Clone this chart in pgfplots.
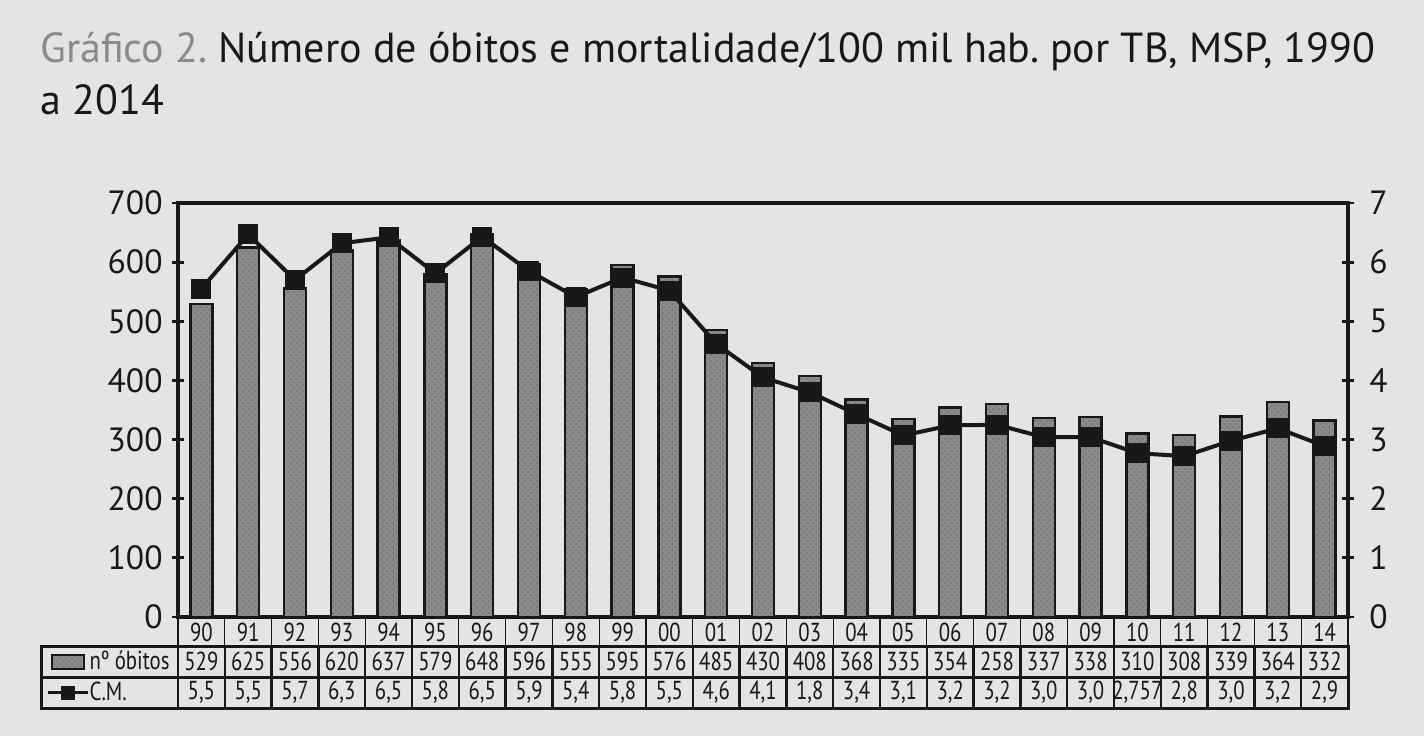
\documentclass[border=0pt]{standalone}
\usepackage{pgfplots}
\pgfplotsset{compat=1.18}
\usepackage{pgfplotstable}
\usepackage{fontspec}
\setmainfont{PT Sans}
\newfontfamily\narrowfont[FakeStretch=0.8]{PT Sans}
\usetikzlibrary{patterns}
\frenchspacing

\definecolor{paper}{HTML}{E4E4E2}
\definecolor{ink}{HTML}{181818}
\definecolor{titlegray}{HTML}{8A8A8A}
\definecolor{barfill}{HTML}{8A8A8A}
\pagecolor{paper}

% legend keys as they sit in the table
\pgfplotsset{
  barkey/.style={legend image code/.code={\draw[##1] (2pt,-3.5pt) rectangle (18pt,3.5pt);}},
  linekey/.style={legend image code/.code={\draw[##1, mark repeat=2, mark phase=2] plot coordinates {(0pt,0pt) (10pt,0pt) (20pt,0pt)};}},
}

% plotted values (x = 1990 ... 2014)
\pgfplotstableread{
x obitos cm
0 529 5.55
1 625 6.47
2 556 5.70
3 620 6.32
4 637 6.42
5 579 5.81
6 648 6.43
7 596 5.85
8 555 5.41
9 595 5.74
10 576 5.52
11 485 4.62
12 430 4.05
13 408 3.80
14 368 3.43
15 335 3.07
16 354 3.24
17 360 3.25
18 337 3.04
19 338 3.04
20 310 2.77
21 308 2.72
22 339 2.98
23 364 3.19
24 332 2.89
}\data

\newcommand{\tabfont}{\narrowfont\fontsize{13}{14}\selectfont}
\newcommand{\tickfont}{\fontsize{16.8}{18}\selectfont}

\begin{document}
\begin{tikzpicture}
\useasboundingbox (-89pt,-59.5pt) rectangle (623pt,308.5pt);

% title
\node[anchor=base west, inner sep=0pt, font=\fontsize{21}{23}\selectfont]
  at (-69pt,277.5pt) {\textcolor{titlegray}{Gráfico 2.} \textcolor{ink}{Número de óbitos e mortalidade/100 mil hab. por TB, MSP, 1990}};
\node[anchor=base west, inner sep=0pt, font=\fontsize{21}{23}\selectfont, text=ink]
  at (-69pt,251.5pt) {a 2014};

\begin{axis}[
  scale only axis, width=585pt, height=207pt,
  xmin=-0.5, xmax=24.5, ymin=0, ymax=700,
  xtick=\empty,
  ytick={0,100,...,700}, ytick pos=left,
  tick align=center, major tick length=6pt,
  tick style={ink, line width=1.4pt},
  axis line style={ink, line width=2pt},
  yticklabel style={font=\tickfont, text=ink, anchor=east, inner sep=0pt, xshift=-4.5pt},
  /pgf/number format/assume math mode=true,
  clip=false,
  legend style={at={(axis description cs:-0.1128,-0.0700)}, anchor=north west,
    draw=none, fill=none, inner sep=0pt, row sep=0pt,
    font=\tabfont, text=ink,
    nodes={inner sep=0pt, minimum height=15.5pt}},
  legend cell align=left,
]
\addplot[ybar, bar width=11pt, draw=ink, line width=1.2pt, fill=barfill,
  postaction={pattern=crosshatch dots, pattern color=black!55}, barkey]
  table[x=x, y=obitos] {\data};
\addlegendentry{nº óbitos}
\addlegendimage{ink, line width=1.6pt, mark=square*, mark size=2.6pt, linekey}
\addlegendentry{C.M.}
\end{axis}

\begin{axis}[
  scale only axis, width=585pt, height=207pt,
  xmin=-0.5, xmax=24.5, ymin=0, ymax=7,
  axis x line=none, axis y line*=right,
  ytick={0,1,...,7},
  tick align=center, major tick length=6pt,
  tick style={ink, line width=1.4pt},
  axis line style={ink, line width=2pt},
  yticklabel style={font=\tickfont, text=ink, anchor=west, inner sep=0pt, xshift=7.5pt},
  /pgf/number format/assume math mode=true,
  clip=false,
]
\addplot[ink, line width=2pt, mark=square*, mark size=4pt] table[x=x, y=cm] {\data};
\end{axis}

% data table below the chart
\draw[ink, line width=0.9pt] (0,0) rectangle (585pt,-14.5pt);
\foreach \i in {1,...,24} \draw[ink, line width=0.6pt] ({\i*23.4pt},0) -- ({\i*23.4pt},-14.5pt);
\draw[ink, line width=1.5pt] (-68pt,-14.5pt) rectangle (585pt,-45.5pt);
\draw[ink, line width=1.5pt] (-68pt,-30pt) -- (585pt,-30pt);
\foreach \i in {0,...,24} \draw[ink, line width=1.2pt] ({\i*23.4pt},-14.5pt) -- ({\i*23.4pt},-45.5pt);

\foreach \t [count=\i from 0] in {90,91,92,93,94,95,96,97,98,99,00,01,02,03,04,05,06,07,08,09,10,11,12,13,14}
  \node[font=\tabfont, text=ink] at ({(\i+0.5)*23.4pt},-7.5pt) {\t};
\foreach \t [count=\i from 0] in {529,625,556,620,637,579,648,596,555,595,576,485,430,408,368,335,354,258,337,338,310,308,339,364,332}
  \node[font=\tabfont, text=ink] at ({(\i+0.5)*23.4pt},-22.25pt) {\t};
\foreach \a/\b [count=\i from 0] in {5/5,5/5,5/7,6/3,6/5,5/8,6/5,5/9,5/4,5/8,5/5,4/6,4/1,1/8,3/4,3/1,3/2,3/2,3/0,3/0,2/757,2/8,3/0,3/2,2/9}
  \node[font=\tabfont, text=ink, inner sep=0pt] at ({(\i+0.5)*23.4pt},-37.75pt) {\a,\b};
\end{tikzpicture}
\end{document}
